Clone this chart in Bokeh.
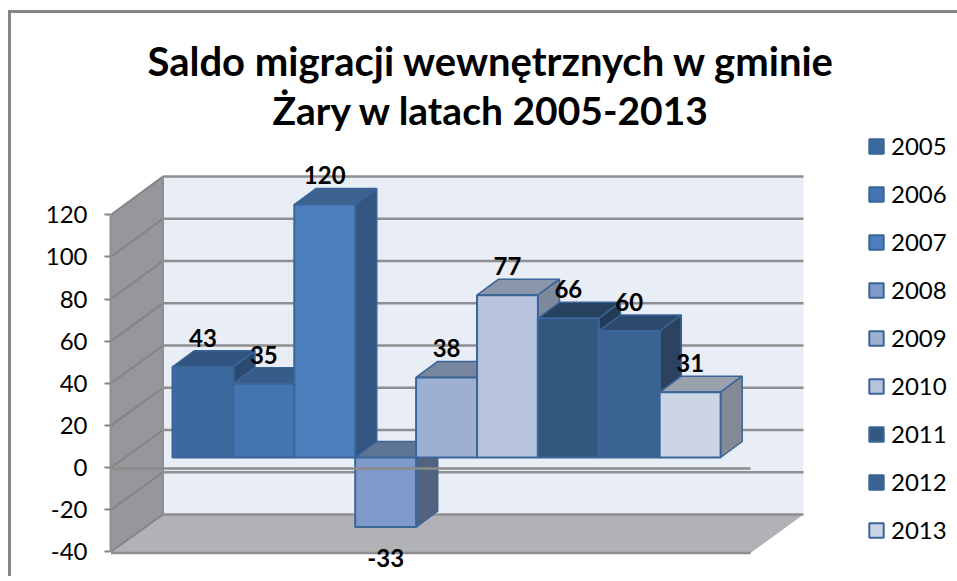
from bokeh.plotting import figure
from bokeh.models import Range1d, LinearAxis, FixedTicker, Legend, LegendItem, Title
from bokeh.core.properties import value as V
from bokeh.embed import file_html
from bokeh.resources import INLINE

TITLE_LINES = ["Saldo migracji wewnętrznych w gminie", "Żary w latach 2005-2013"]
years = ["2005", "2006", "2007", "2008", "2009", "2010", "2011", "2012", "2013"]
values = [43, 35, 120, -33, 38, 77, 66, 60, 31]
axis_ticks = [-40, -20, 0, 20, 40, 60, 80, 100, 120]
front_colors = ["#3d6a9e", "#4575b0", "#4d7ebd", "#7f9aca", "#9db0d2", "#b7c3dd", "#335880", "#3a6393", "#ccd5e6"]
top_colors = ["#315480", "#385c88", "#3c6290", "#5f7596", "#78869f", "#8a96aa", "#27425f", "#2c4a6d", "#9aa1ad"]
side_colors = ["#2b4a72", "#2d4e78", "#34557f", "#52637f", "#68748a", "#7e899b", "#233b56", "#2b4260", "#838a95"]

# page geometry of the picture (px)
ML, MT, BW = 8, 10, 3
FL, FR, FT, FB = 110.0, 949.0, 130.0, 576.0
BAR_X0, BAR_W = 172.0, 60.9
BAR_Y0, PX_PER = 457.0, 2.108
AXIS_Y0, AXIS_PX = 467.0, 2.106
DX, DY = 21.6 / BAR_W, 16.0 / PX_PER


def ux(px):
    return (px - BAR_X0) / BAR_W


def uy(px):
    return (BAR_Y0 - px) / PX_PER


mb_left = int(FL - ML - BW)
mb_top = int(FT - MT - BW)
p = figure(width=mb_left + int(FR - FL) + 8, height=mb_top + int(FB - FT),
           output_backend="svg", toolbar_location=None,
           x_range=Range1d(ux(FL), ux(FR)), y_range=Range1d(uy(FB), uy(FT)),
           x_axis_location=None, y_axis_location=None,
           frame_width=int(FR - FL), frame_height=int(FB - FT),
           min_border_left=mb_left, min_border_right=8, min_border_top=mb_top, min_border_bottom=0)
p.grid.visible = False
p.outline_line_color = None
p.background_fill_color = "white"
p.border_fill_color = "white"
p.styles = {"border-left": "3px solid #868686", "border-top": "3px solid #868686",
            "margin-top": f"{MT}px", "margin-left": f"{ML}px"}

line1 = Title(text=TITLE_LINES[0], text_font="Lato", text_font_style="bold", text_font_size="40px",
              text_color="#000000", align="left", offset=37, standoff=3)
line2 = Title(text=TITLE_LINES[1], text_font="Lato", text_font_style="bold", text_font_size="39px",
              text_color="#000000", align="left", offset=162, standoff=-4)
p.add_layout(line2, "above")
p.add_layout(line1, "above")

# walls
GRID = "#8f8f91"
WL, WR, WT, WB = 162.5, 803.0, 176.0, 514.0
FWL, FWR, FWT, FWB = 110.5, 750.0, 215.0, 552.5
p.patch([ux(WL), ux(WR), ux(WR), ux(WL)], [uy(WT), uy(WT), uy(WB), uy(WB)], fill_color="#e9edf5", line_color=None)
p.patch([ux(FWL), ux(WL), ux(WL), ux(FWL)], [uy(FWT), uy(WT), uy(WB), uy(FWB)], fill_color="#96979b", line_color=None)
p.patch([ux(FWL), ux(WL), ux(WR), ux(FWR)], [uy(FWB), uy(WB), uy(WB), uy(FWB)], fill_color="#b0b2b5", line_color=None)

# gridlines: on the back wall and the left wall, from the axis ticks
back_px = [WB - (t - axis_ticks[0]) * (WB - WT) / 160.0 for t in axis_ticks]
front_px = [AXIS_Y0 - t * AXIS_PX for t in axis_ticks]
p.segment([ux(WL)] * len(back_px), [uy(b) for b in back_px], [ux(WR)] * len(back_px), [uy(b) for b in back_px],
          line_color=GRID, line_width=2.5)
p.segment([ux(FWL)] * len(back_px), [uy(f) for f in front_px], [ux(WL)] * len(back_px), [uy(b) for b in back_px],
          line_color="#838486", line_width=2)
p.segment([ux(WL)], [uy(WT)], [ux(WL)], [uy(WB)], line_color="#8f9092", line_width=2)
p.segment([ux(FWL)], [uy(FWB)], [ux(FWR)], [uy(FWB)], line_color="#8f8f91", line_width=2.5)

# bars, painted from left to right
items = []
EDGE = "#3a6598"
for i, (yr, v) in enumerate(zip(years, values)):
    top = max(v, 0)
    bot = min(v, 0)
    p.patch([i, i + DX, i + 1 + DX, i + 1], [top, top + DY, top + DY, top],
            fill_color=top_colors[i], line_color=EDGE, line_width=1.5)
    p.patch([i + 1, i + 1 + DX, i + 1 + DX, i + 1], [top, top + DY, bot + DY, bot],
            fill_color=side_colors[i], line_color=EDGE, line_width=1.5)
    r = p.quad(left=[i], right=[i + 1], top=[top], bottom=[bot],
               fill_color=front_colors[i], line_color=EDGE, line_width=2)
    items.append(LegendItem(label=yr, renderers=[r]))

# zero plane
p.segment([ux(FWL)], [uy(468.0)], [ux(FWR)], [uy(468.0)], line_color="#8c8c8c", line_width=2.5)

# value labels
lab_x = [i + 0.5 for i in range(len(values))]
lab_y = [v + 13.8 if v >= 0 else v - 14.7 for v in values]
p.text(lab_x, lab_y, text=[str(v) for v in values], text_font=V("Lato"), text_font_style="bold",
       text_font_size="24px", text_align="center", text_baseline="middle", text_color="#000000")

# value axis in the front plane
p.extra_y_ranges = {"front": Range1d((AXIS_Y0 - FB) / AXIS_PX, (AXIS_Y0 - FT) / AXIS_PX)}
ax = LinearAxis(y_range_name="front", ticker=FixedTicker(ticks=axis_ticks), bounds=(-40, 120))
ax.axis_line_color = "#8f9092"
ax.axis_line_width = 2
ax.major_tick_line_color = "#838486"
ax.major_tick_line_width = 2
ax.major_tick_out = 6
ax.major_tick_in = 0
ax.minor_tick_line_color = None
ax.major_label_text_font = "Lato"
ax.major_label_text_font_size = "24px"
ax.major_label_text_color = "#000000"
ax.major_label_standoff = 17
ax.major_label_overrides = {t: str(t) for t in axis_ticks}
p.add_layout(ax, "left")

# legend
leg = Legend(items=items, location=(868 - FL - 1, FB - 544), orientation="vertical",
             background_fill_alpha=0, border_line_color=None, padding=0, margin=0,
             spacing=19, glyph_width=18, glyph_height=18, label_height=26,
             label_standoff=6, label_text_font="Lato", label_text_font_size="24px",
             label_text_color="#000000", label_text_baseline="middle")
p.add_layout(leg)

open("out.html", "w").write(file_html(p, INLINE))
